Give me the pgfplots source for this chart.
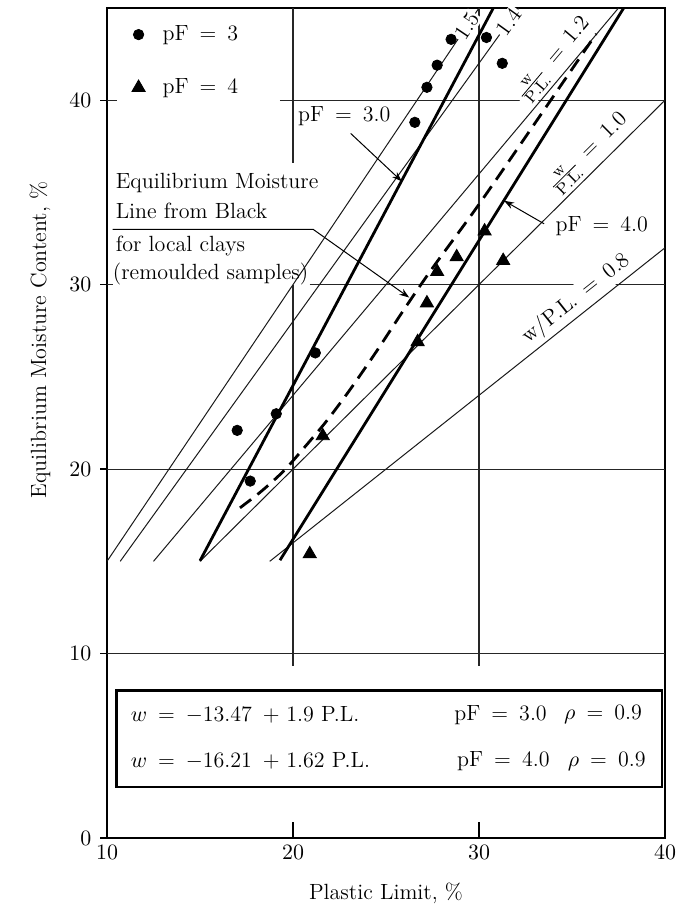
\documentclass[border=0pt]{standalone}
\usepackage{pgfplots}
\pgfplotsset{compat=1.18}
\usetikzlibrary{arrows.meta}
\newcommand{\eqs}{\hspace{0.5em}=\hspace{0.5em}}
\pgfplotsset{
  gridl/.style={line width=0.6pt, black!85, forget plot},
  thinl/.style={line width=0.5pt, black!90, forget plot},
  thickl/.style={line width=1.4pt, black, forget plot},
}
\begin{document}
\begin{tikzpicture}[font=\fontsize{11}{13.2}\selectfont]
\begin{axis}[name=ax, scale only axis, width=279pt, height=415pt,
  xmin=10, xmax=40, ymin=0, ymax=45,
  xtick={10,20,30,40}, ytick={0,10,20,30,40},
  tick pos=left, xtick align=inside, ytick align=outside,
  xtick style={/pgfplots/major tick length=8pt, line width=0.7pt, black},
  ytick style={/pgfplots/major tick length=3.5pt, line width=0.7pt, black},
  axis line style={line width=0.9pt},
  xlabel={Plastic Limit,\ \%},
  ylabel={Equilibrium Moisture Content,\ \%},
  xlabel style={at={(axis description cs:0.5,0)}, anchor=center, yshift=-27.5pt},
  ylabel style={at={(axis description cs:-0.12,0.6)}, anchor=center},
  legend image code/.code={\path[draw=none, fill=none] (-1pt,0pt) -- (10pt,0pt); \draw[#1] plot coordinates {(0pt,0pt)};},
  legend style={draw=none, fill=none, at={(axis cs:11.0,44.5)}, anchor=north west,
    row sep=13.5pt, font=\fontsize{11}{13.2}\selectfont},
  legend cell align=left,
]
% grid segments
\addplot[gridl] coordinates {(20,45) (20,36.6)};
\addplot[gridl] coordinates {(20,30) (20,9.3)};
\addplot[gridl] coordinates {(30,45) (30,9.3)};
\addplot[gridl] coordinates {(10,40) (10.55,40)};
\addplot[gridl] coordinates {(19.3,40) (40,40)};
\addplot[gridl] coordinates {(10,30) (10.3,30)};
\addplot[gridl] coordinates {(20.9,30) (40,30)};
\addplot[gridl] coordinates {(10,20) (40,20)};
\addplot[gridl] coordinates {(10,10) (40,10)};
% w/P.L. ratio lines
\addplot[thinl] coordinates {(10,15) (30,45)};
\addplot[thinl] coordinates {(10.71,15) (32.14,45)};
\addplot[thinl] coordinates {(12.5,15) (37.5,45)};
\addplot[thinl] coordinates {(15,15) (40,40)};
\addplot[thinl] coordinates {(18.75,15) (40,32)};
% regression lines
\addplot[thickl] coordinates {(15,15.03) (30.77,45)};
\addplot[thickl] coordinates {(19.3,15.06) (37.78,45)};
% Black's line
\addplot[thickl, dash pattern=on 7pt off 4pt, smooth, tension=0.5] coordinates {
 (17.15,17.9) (18.3,18.8) (19.5,19.9) (20.55,21.1) (21.8,22.6) (23.06,24.3)
 (24.5,26.4) (26.0,28.7) (27.5,30.9) (29.96,34.3) (33.04,38.8) (36.3,43.6)};
% data
\addplot[only marks, mark=*, mark size=2.6pt, black] coordinates {
 (17.0,22.1) (17.7,19.35) (19.1,23.0) (21.2,26.3) (26.55,38.8) (27.2,40.7)
 (27.75,41.9) (28.5,43.3) (30.4,43.4) (31.25,42.0)};
\addlegendentry{pF\eqs 3}
\addplot[only marks, mark=triangle*, mark size=3.8pt, black] coordinates {
 (20.9,15.4) (21.6,21.8) (26.7,26.9) (27.2,29.0) (27.75,30.7) (28.8,31.5)
 (30.3,32.9) (31.3,31.3)};
\addlegendentry{pF\eqs 4}

% line labels
\node[rotate=56.1, fill=white, inner sep=0.8pt] at (axis cs:29.35,44.0) {1.5};
\node[rotate=54.3, fill=white, inner sep=0.8pt] at (axis cs:31.6,44.24) {1.4};
\node[rotate=49.9, anchor=south, fill=white, inner sep=1pt, outer sep=1pt] at (axis cs:34.7,41.64) {$\frac{\mathrm{w}}{\mathrm{P.L.}}$\eqs 1.2};
\node[rotate=44.76, anchor=south, fill=white, inner sep=1pt, outer sep=1pt] at (axis cs:36.5,36.5) {$\frac{\mathrm{w}}{\mathrm{P.L.}}$\eqs 1.0};
\node[rotate=38.4, anchor=south, fill=white, inner sep=1pt, outer sep=1pt] at (axis cs:35.75,28.6) {w/P.L.\eqs 0.8};

% annotations
\node[anchor=west, inner sep=0pt] at (axis cs:20.25,39.15) {pF\eqs 3.0};
\draw[line width=0.5pt, -{Stealth[length=5pt,width=3.5pt]}] (axis cs:23.1,38.2) -- (axis cs:25.85,35.6);
\node[anchor=west, inner sep=0pt] at (axis cs:34.1,33.15) {pF\eqs 4.0};
\draw[line width=0.5pt, -{Stealth[length=5pt,width=3.5pt]}] (axis cs:33.5,33.3) -- (axis cs:31.35,34.55);
\node[anchor=west, inner sep=0pt] at (axis cs:10.45,35.5) {Equilibrium Moisture};
\node[anchor=west, inner sep=0pt] at (axis cs:10.45,34.0) {Line from\ Black};
\node[anchor=west, inner sep=0pt] at (axis cs:10.45,32.07) {for local clays};
\node[anchor=west, inner sep=0pt] at (axis cs:10.3,30.6) {(remoulded samples)};
\draw[line width=0.5pt, -{Stealth[length=5pt,width=3.5pt]}] (axis cs:10.3,33.0) -- (axis cs:21.08,33.0) -- (axis cs:26.25,29.3);

% equation box
\draw[line width=1.2pt] (axis cs:10.5,2.75) rectangle (axis cs:39.85,8.0);
\node[anchor=west] at (axis cs:10.9,6.68) {$w$\eqs$-$13.47\hspace{0.5em}+\hspace{0.3em}1.9 P.L.};
\node[anchor=west] at (axis cs:28.3,6.68) {pF\eqs 3.0};
\node[anchor=west] at (axis cs:34.2,6.68) {$\rho$\eqs 0.9};
\node[anchor=west] at (axis cs:10.9,4.18) {$w$\eqs$-$16.21\hspace{0.5em}+\hspace{0.3em}1.62 P.L.};
\node[anchor=west] at (axis cs:28.45,4.18) {pF\eqs 4.0};
\node[anchor=west] at (axis cs:34.4,4.18) {$\rho$\eqs 0.9};
\end{axis}
\pgfresetboundingbox
\path[use as bounding box] ([xshift=-53.5pt,yshift=-39.5pt]ax.south west) rectangle ([xshift=6.5pt,yshift=4pt]ax.north east);
\end{tikzpicture}
\end{document}
